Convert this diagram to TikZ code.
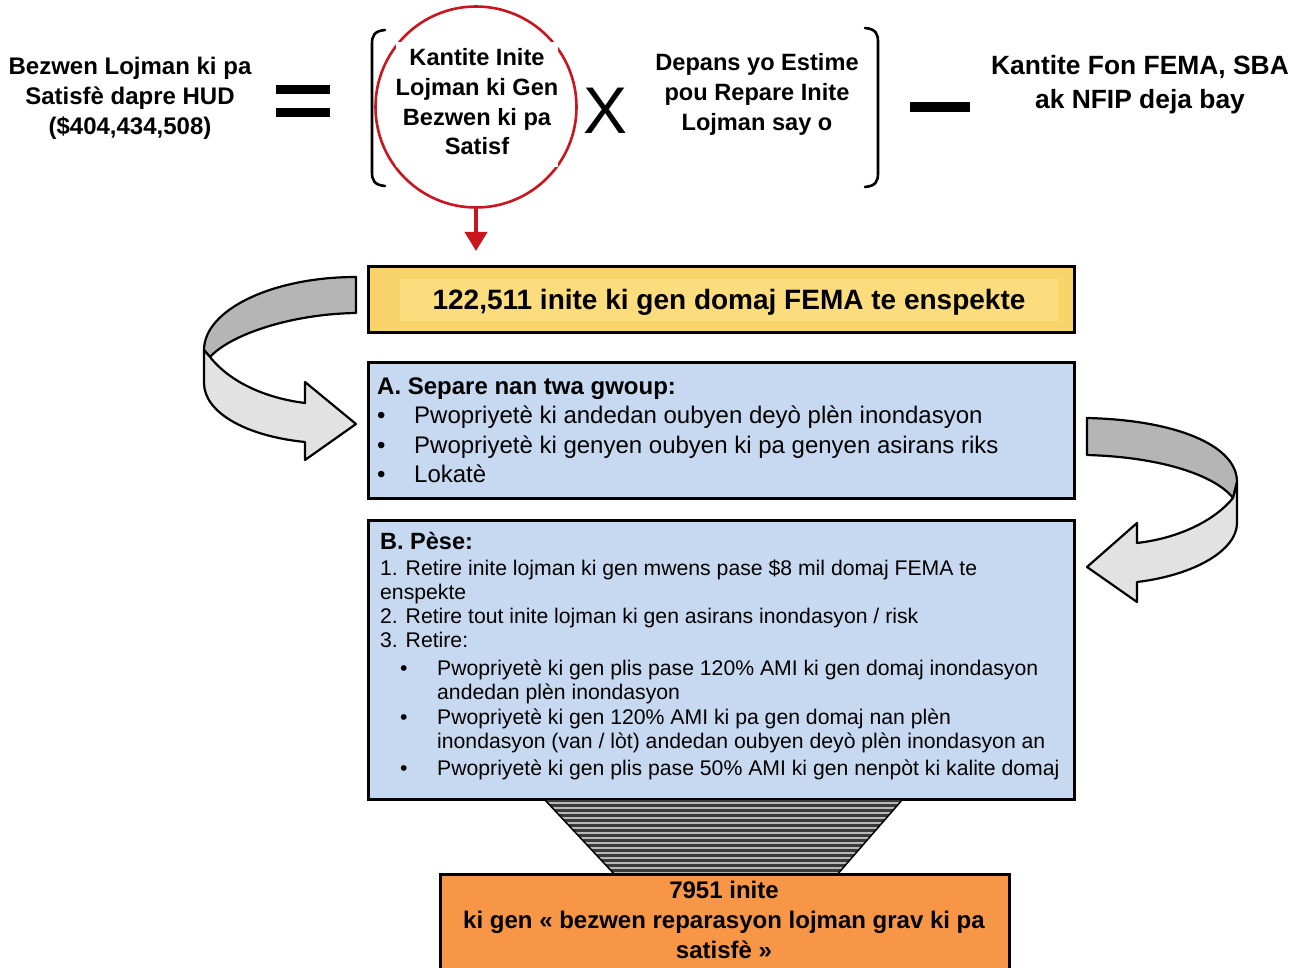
\documentclass[tikz,border=0pt]{standalone}
\usepackage{fontspec}
\setmainfont{Liberation Sans}
\usetikzlibrary{arrows.meta,shapes.geometric}
\definecolor{yelfill}{HTML}{F9D46B}
\definecolor{yelin}{HTML}{FCDD7E}
\definecolor{bluefill}{HTML}{C6D9F1}
\definecolor{orfill}{HTML}{F79646}
\definecolor{redc}{HTML}{C8161E}
\definecolor{ribdark}{HTML}{B5B5B5}
\definecolor{riblight}{HTML}{E2E2E2}
\definecolor{funneldark}{HTML}{3A3A3A}
\definecolor{funnellight}{HTML}{B8B8B8}
\newcommand\myfs[2]{\fontsize{#1}{#2}\selectfont}
\begin{document}
\begin{tikzpicture}[x=1pt,y=-1pt,
  boxstyle/.style={draw=black, line width=3pt, inner sep=0pt},
  rib/.style={draw=black, line width=2.2pt, line join=round},
  bigtxt/.style={font=\myfs{24}{30}\bfseries, align=center, inner sep=0pt},
  atxt/.style={font=\myfs{24}{29}, anchor=base west, inner sep=0pt},
  btxt/.style={font=\myfs{21.2}{24}, anchor=base west, inner sep=0pt},
  bracket/.style={draw=black, line width=2.6pt, line cap=round}]
\useasboundingbox (0,0) rectangle (1296,968);
\fill[white] (0,0) rectangle (1296,968);

% ---- top formula ----
\node[bigtxt] (lhs) at (130,98) {Bezwen Lojman ki pa\\Satisf\`e dapre HUD\\(\$404,434,508)};
\fill (276,85) rectangle (330,94);
\fill (276,108) rectangle (330,117);

\draw[bracket] (385,30) .. controls (374,31) and (372,36) .. (372,44) -- (372,172) .. controls (372,180) and (374,185) .. (385,186);

\node[draw=redc, line width=2.6pt, ellipse, minimum width=201pt, minimum height=201pt, inner sep=0pt] (circ) at (476,107) {};
\fill[white] (396,42) rectangle (558,167);
\node[bigtxt, font=\myfs{23.6}{29.7}\bfseries] (circtext) at (477,102) {Kantite Inite\\Lojman ki Gen\\Bezwen ki pa\\Satisf};
\coordinate (redend) at (476,251);
\draw[redc, line width=4pt, -{Triangle[width=22pt,length=19pt]}] (circ.south) -- (redend);

\node[inner sep=0pt, font=\myfs{66}{66}] (times) at (606,111) {X};

\node[bigtxt, font=\myfs{23.6}{30}\bfseries] (cost) at (757,94) {Depans yo Estime\\pou Repare Inite\\Lojman say o};
\draw[bracket] (865,28) .. controls (876,29) and (878,34) .. (878,42) -- (878,173) .. controls (878,181) and (876,186) .. (865,187);

\fill (910,102) rectangle (970,112);
\node[bigtxt, font=\myfs{26.4}{34}\bfseries] (funds) at (1140,85) {Kantite Fon FEMA, SBA\\ak NFIP deja bay};

% ---- yellow box ----
\node[boxstyle, fill=yelfill, minimum width=706pt, minimum height=66pt] (yel) at (721,300) {};
\fill[yelin] (400,279) rectangle (1058,321);
\node[inner sep=0pt, font=\myfs{28}{30}\bfseries] (yeltext) at (729,302) {122,511 inite ki gen domaj FEMA te enspekte};

% ---- box A ----
\node[boxstyle, fill=bluefill, minimum width=706pt, minimum height=136pt] (boxa) at (721,430) {};
\node[atxt, font=\myfs{24}{29}\bfseries] (ah) at (377,394) {A. Separe nan twa gwoup:};
\node[atxt] (ab1) at (377,423) {\textbullet};
\node[atxt] (at1) at (414,423) {Pwopriyet\`e ki andedan oubyen dey\`o pl\`en inondasyon};
\node[atxt] (ab2) at (377,453) {\textbullet};
\node[atxt] (at2) at (414,453) {Pwopriyet\`e ki genyen oubyen ki pa genyen asirans riks};
\node[atxt] (ab3) at (377,482) {\textbullet};
\node[atxt] (at3) at (414,482) {Lokat\`e};

% ---- box B ----
\node[boxstyle, fill=bluefill, minimum width=706pt, minimum height=279pt] (boxb) at (721,659.5) {};
\node[btxt, font=\myfs{23.5}{24}\bfseries] (bh) at (380,549.5) {B. P\`ese:};
\node[btxt] (b1) at (380,575.6) {1. Retire inite lojman ki gen mwens pase \$8 mil domaj FEMA te};
\node[btxt] (b1b) at (380,599.6) {enspekte};
\node[btxt] (b2) at (380,623.6) {2. Retire tout inite lojman ki gen asirans inondasyon / risk};
\node[btxt] (b3) at (380,647.6) {3. Retire:};
\node[btxt] (bb1) at (400,675.6) {\textbullet};
\node[btxt] (bt1) at (437,675.6) {Pwopriyet\`e ki gen plis pase 120\% AMI ki gen domaj inondasyon};
\node[btxt] (bt1b) at (437,699.6) {andedan pl\`en inondasyon};
\node[btxt] (bb2) at (400,724.6) {\textbullet};
\node[btxt] (bt2) at (437,724.6) {Pwopriyet\`e ki gen 120\% AMI ki pa gen domaj nan pl\`en};
\node[btxt] (bt2b) at (437,748.6) {inondasyon (van / l\`ot) andedan oubyen dey\`o pl\`en inondasyon an};
\node[btxt] (bb3) at (400,775.6) {\textbullet};
\node[btxt] (bt3) at (437,775.6) {Pwopriyet\`e ki gen plis pase 50\% AMI ki gen nenp\`ot ki kalite domaj};

% ---- funnel ----
\coordinate (f1) at (545,800);
\coordinate (f2) at (902,800);
\coordinate (f3) at (836,876);
\coordinate (f4) at (616,876);
\begin{scope}
  \clip (f1) -- (f2) -- (f3) -- (f4) -- cycle;
  \fill[funneldark] (540,798) rectangle (910,878);
  \foreach \yy in {803,808,...,878} {
    \draw[funnellight, line width=1.6pt] (540,\yy) -- (910,\yy);
  }
\end{scope}
\draw[black, line width=1.5pt] (f1) -- (f4);
\draw[black, line width=1.5pt] (f2) -- (f3);

% ---- orange box ----
\node[boxstyle, fill=orfill, minimum width=569pt, minimum height=98pt] (orange) at (724.5,923) {};
\node[bigtxt] (ortext) at (724,920) {7951 inite\\ki gen « bezwen reparasyon lojman grav ki pa\\satisf\`e »};

% ---- curved arrows ----
\draw[rib, fill=ribdark] (356,277) .. controls (272,277) and (204,310) .. (204,350) -- (210,357) .. controls (230,335) and (290,314) .. (356,313) -- cycle;
\draw[rib, fill=riblight] (204,350) -- (210,357) .. controls (230,382) and (265,398) .. (305,403) -- (305,382) -- (356,424) -- (305,460) -- (305,442) .. controls (245,436) and (204,412) .. (204,383) -- cycle;

\draw[rib, fill=ribdark] (1087,418) .. controls (1175,420) and (1237,445) .. (1237,482) -- (1233,498) .. controls (1215,475) and (1160,457) .. (1087,455) -- cycle;
\draw[rib, fill=riblight] (1237,482) -- (1233,498) .. controls (1215,520) and (1180,538) .. (1137,543) -- (1137,523) -- (1087,567) -- (1137,602) -- (1137,582) .. controls (1195,575) and (1237,550) .. (1237,523) -- cycle;
\end{tikzpicture}
\end{document}
